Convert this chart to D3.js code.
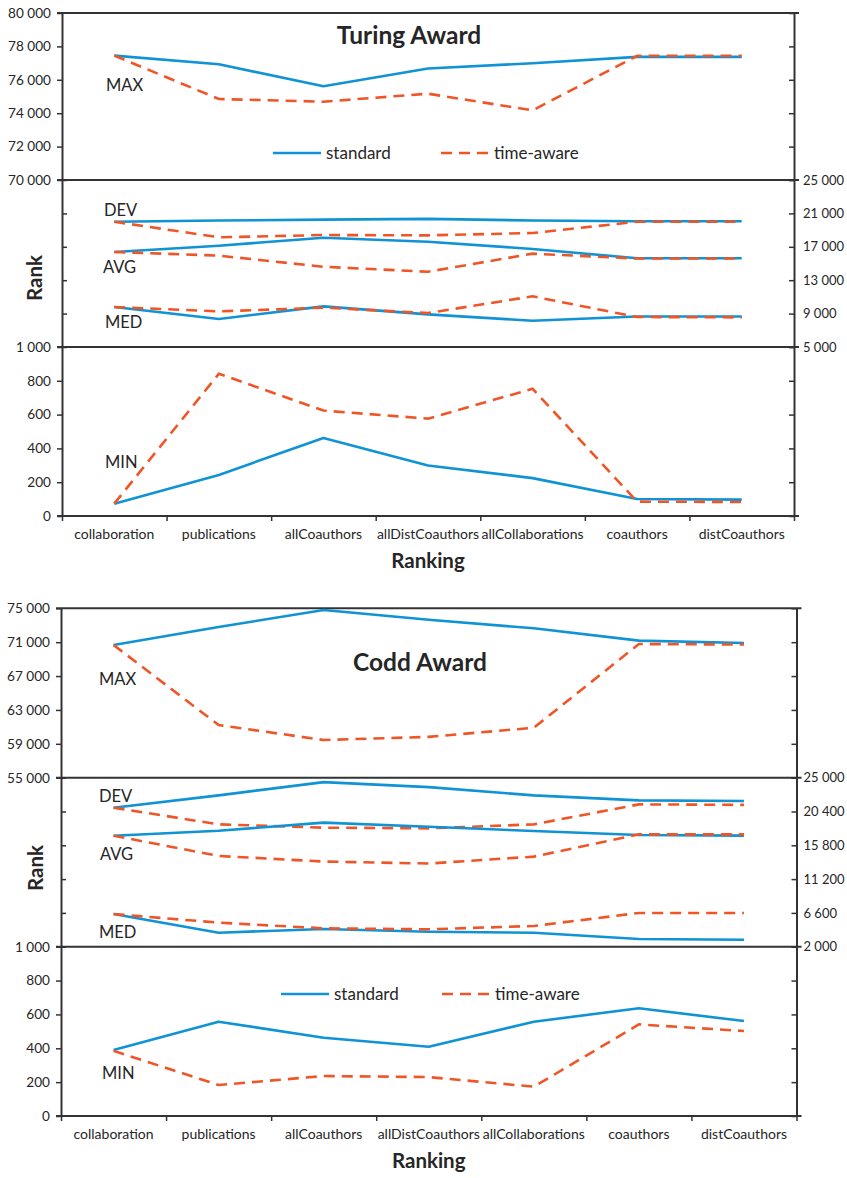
<!DOCTYPE html>
<html>
<head>
<meta charset="utf-8">
<script src="https://cdn.jsdelivr.net/npm/d3@7"></script>
<style>
  body { margin: 0; background: #fff; }
  svg { display: block; }
  text { font-family: Lato, "Open Sans", sans-serif; fill: #262626; }
</style>
</head>
<body>
<svg id="chart" width="847" height="1178"></svg>
<script>
// ---- data ----
const categories = ["collaboration", "publications", "allCoauthors", "allDistCoauthors",
                    "allCollaborations", "coauthors", "distCoauthors"];
const seriesNames = ["standard", "time-aware"];

// Turing Award
const turingMaxStandard  = [77450, 76930, 75610, 76680, 76990, 77370, 77370];
const turingMaxTimeAware = [77450, 74850, 74690, 75170, 74170, 77440, 77440];
const turingDevStandard  = [20000, 20150, 20250, 20350, 20150, 20060, 20060];
const turingDevTimeAware = [20000, 18140, 18410, 18370, 18650, 20000, 20000];
const turingAvgStandard  = [16380, 17130, 18090, 17610, 16740, 15630, 15630];
const turingAvgTimeAware = [16380, 15940, 14610, 14010, 16180, 15590, 15590];
const turingMedStandard  = [9790, 8350, 9870, 8910, 8150, 8650, 8650];
const turingMedTimeAware = [9790, 9270, 9710, 9070, 11070, 8590, 8550];
const turingMinStandard  = [73, 243, 462, 299, 224, 101, 97];
const turingMinTimeAware = [73, 842, 624, 576, 753, 85, 83];

// Codd Award
const coddMaxStandard  = [70670, 72790, 74800, 73650, 72640, 71180, 70900];
const coddMaxTimeAware = [70670, 61220, 59450, 59820, 60900, 70780, 70720];
const coddDevStandard  = [20920, 22590, 24400, 23720, 22590, 21910, 21820];
const coddDevTimeAware = [20920, 18650, 18200, 18110, 18650, 21370, 21300];
const coddAvgStandard  = [17110, 17790, 18880, 18330, 17740, 17200, 17110];
const coddAvgTimeAware = [17110, 14350, 13590, 13320, 14260, 17290, 17290];
const coddMedStandard  = [6450, 3900, 4410, 4040, 3900, 3040, 2950];
const coddMedTimeAware = [6450, 5270, 4500, 4370, 4820, 6590, 6590];
const coddMinStandard  = [390, 557, 462, 409, 557, 636, 561];
const coddMinTimeAware = [385, 183, 236, 230, 173, 541, 502];

// tick values
const turingMaxTicks    = [70000, 72000, 74000, 76000, 78000, 80000];
const turingSpreadTicks = [5000, 9000, 13000, 17000, 21000, 25000];
const coddMaxTicks      = [55000, 59000, 63000, 67000, 71000, 75000];
const coddSpreadTicks   = [2000, 6600, 11200, 15800, 20400, 25000];
const minTicks          = [0, 200, 400, 600, 800, 1000];

// ---- style ----
const BLUE = "#0f93d5";
const ORANGE = "#ef5526";
const AXIS = "#333";
const locale = d3.formatLocale({ decimal: ".", thousands: "\u00a0", grouping: [3], currency: ["", ""] });
const fmt = locale.format(",");

const svg = d3.select("#chart");

function drawChart(cfg) {
  const g = svg.append("g");
  const x = d3.scaleBand().domain(categories).range([cfg.left, cfg.right]);
  const edges = d3.scaleLinear().domain([0, categories.length]).range([cfg.left, cfg.right]);
  const cx = c => x(c) + x.bandwidth() / 2;

  cfg.panels.forEach(p => {
    const y = d3.scaleLinear().domain([p.lo, p.hi]).range([p.bottom, p.top]);

    // left axis
    const la = d3.axisLeft(y).tickValues(p.ticks).tickSizeOuter(0);
    if (p.labelSide === "left") la.tickSizeInner(5).tickPadding(6).tickFormat(fmt);
    else la.tickSizeInner(-5).tickFormat("");
    const lg = g.append("g").attr("transform", `translate(${cfg.left},0)`).call(la);

    // right axis
    const ra = d3.axisRight(y).tickValues(p.ticks).tickSizeOuter(0).tickSizeInner(-5);
    if (p.labelSide === "right") ra.tickPadding(cfg.rightPad).tickFormat(fmt);
    else ra.tickFormat("");
    const rg = g.append("g").attr("transform", `translate(${cfg.right},0)`).call(ra);

    [lg, rg].forEach(a => {
      a.select(".domain").attr("stroke", AXIS).attr("stroke-width", 2);
      a.selectAll(".tick line").attr("stroke", AXIS).attr("stroke-width", 1.5);
      a.selectAll(".tick text").style("font-size", "13.6px").attr("fill", "#262626");
    });
    rg.selectAll(".tick text").style("font-size", "13px");

    // panel top border
    g.append("line")
      .attr("x1", cfg.left - 5).attr("x2", cfg.right + 5)
      .attr("y1", p.top).attr("y2", p.top)
      .attr("stroke", AXIS).attr("stroke-width", 2);

    const line = d3.line().x((d, i) => cx(categories[i])).y(d => y(d));

    p.series.forEach(s => {
      g.append("path").datum(s.standard)
        .attr("d", line).attr("fill", "none")
        .attr("stroke", BLUE).attr("stroke-width", 2.6)
        .attr("stroke-linejoin", "round");
      g.append("path").datum(s.timeAware)
        .attr("d", line).attr("fill", "none")
        .attr("stroke", ORANGE).attr("stroke-width", 2.6)
        .attr("stroke-dasharray", "11,7");
      g.append("text").attr("x", s.lx).attr("y", s.ly)
        .style("font-size", "16.5px").text(s.name);
    });

    if (p.legend) {
      const L = p.legend;
      const items = [
        { name: seriesNames[0], color: BLUE, dash: null, x: L.x0 },
        { name: seriesNames[1], color: ORANGE, dash: "11,7", x: L.x1 }
      ];
      items.forEach(it => {
        g.append("line").attr("x1", it.x).attr("x2", it.x + 48)
          .attr("y1", L.y).attr("y2", L.y)
          .attr("stroke", it.color).attr("stroke-width", 2.6)
          .attr("stroke-dasharray", it.dash);
        g.append("text").attr("x", it.x + 53).attr("y", L.y + 6)
          .style("font-size", "17px").text(it.name);
      });
    }
  });

  // bottom axis line
  const bottom = cfg.panels[cfg.panels.length - 1].bottom;
  g.append("line")
    .attr("x1", cfg.left - 5).attr("x2", cfg.right + 5)
    .attr("y1", bottom).attr("y2", bottom)
    .attr("stroke", AXIS).attr("stroke-width", 2);

  // category boundary ticks
  const tg = g.append("g").attr("transform", `translate(0,${bottom})`)
    .call(d3.axisBottom(edges).tickValues(d3.range(categories.length + 1))
      .tickSize(5).tickFormat(""));
  tg.select(".domain").remove();
  tg.selectAll(".tick line").attr("stroke", AXIS).attr("stroke-width", 1.5);

  // category labels
  const cg = g.append("g").attr("transform", `translate(0,${bottom})`)
    .call(d3.axisBottom(x).tickSize(0).tickPadding(13));
  cg.select(".domain").remove();
  cg.selectAll(".tick text").style("font-size", "14px").attr("fill", "#262626");

  // titles
  g.append("text").attr("x", cfg.titleX).attr("y", cfg.titleY)
    .attr("text-anchor", "middle").style("font-size", "24.5px").style("font-weight", "bold")
    .text(cfg.title);
  g.append("text").attr("x", (cfg.left + cfg.right) / 2).attr("y", cfg.xTitleY)
    .attr("text-anchor", "middle").style("font-size", "20.5px").style("font-weight", "bold")
    .text("Ranking");
  g.append("text")
    .attr("transform", `translate(${cfg.yTitleX},${cfg.yTitleY}) rotate(-90)`)
    .attr("text-anchor", "middle").style("font-size", "20.5px").style("font-weight", "bold")
    .text("Rank");
}

drawChart({
  left: 62, right: 794, rightPad: 9,
  title: "Turing Award", titleX: 409, titleY: 44,
  xTitleY: 568, yTitleX: 42, yTitleY: 278,
  panels: [
    { top: 13, bottom: 180, lo: 70000, hi: 80000, ticks: turingMaxTicks, labelSide: "left",
      legend: { x0: 273, x1: 441, y: 153 },
      series: [{ name: "MAX", standard: turingMaxStandard, timeAware: turingMaxTimeAware, lx: 106, ly: 91 }] },
    { top: 180, bottom: 347, lo: 5000, hi: 25000, ticks: turingSpreadTicks, labelSide: "right",
      series: [
        { name: "DEV", standard: turingDevStandard, timeAware: turingDevTimeAware, lx: 104, ly: 216 },
        { name: "AVG", standard: turingAvgStandard, timeAware: turingAvgTimeAware, lx: 103, ly: 273 },
        { name: "MED", standard: turingMedStandard, timeAware: turingMedTimeAware, lx: 105, ly: 328 }
      ] },
    { top: 347, bottom: 516, lo: 0, hi: 1000, ticks: minTicks, labelSide: "left",
      series: [{ name: "MIN", standard: turingMinStandard, timeAware: turingMinTimeAware, lx: 105, ly: 468 }] }
  ]
});

drawChart({
  left: 61, right: 796.5, rightPad: 7,
  title: "Codd Award", titleX: 420, titleY: 671,
  xTitleY: 1168, yTitleX: 43, yTitleY: 868,
  panels: [
    { top: 608.3, bottom: 777.7, lo: 55000, hi: 75000, ticks: coddMaxTicks, labelSide: "left",
      series: [{ name: "MAX", standard: coddMaxStandard, timeAware: coddMaxTimeAware, lx: 99, ly: 685 }] },
    { top: 777.7, bottom: 946.7, lo: 2000, hi: 25000, ticks: coddSpreadTicks, labelSide: "right",
      series: [
        { name: "DEV", standard: coddDevStandard, timeAware: coddDevTimeAware, lx: 99, ly: 802 },
        { name: "AVG", standard: coddAvgStandard, timeAware: coddAvgTimeAware, lx: 100, ly: 860 },
        { name: "MED", standard: coddMedStandard, timeAware: coddMedTimeAware, lx: 99, ly: 938 }
      ] },
    { top: 946.7, bottom: 1116, lo: 0, hi: 1000, ticks: minTicks, labelSide: "left",
      legend: { x0: 281, x1: 442, y: 994 },
      series: [{ name: "MIN", standard: coddMinStandard, timeAware: coddMinTimeAware, lx: 102, ly: 1079 }] }
  ]
});
</script>
</body>
</html>
